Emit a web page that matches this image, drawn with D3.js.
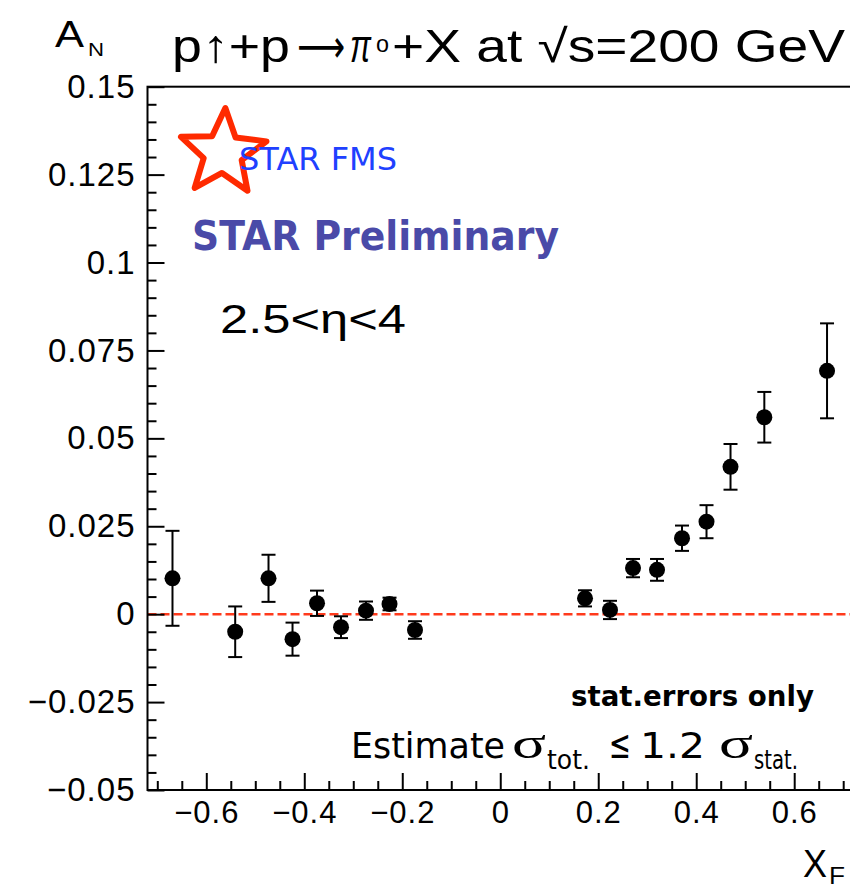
<!DOCTYPE html>
<html>
<head>
<meta charset="utf-8">
<script src="https://cdn.jsdelivr.net/npm/d3@7"></script>
<style>
  html, body { margin: 0; padding: 0; background: #fff; overflow: hidden; }
</style>
</head>
<body>
<div id="chart"></div>
<script>
// values
const xF = [-0.669, -0.541, -0.473, -0.424, -0.374, -0.325, -0.274, -0.226, -0.174,
             0.173, 0.224, 0.271, 0.320, 0.371, 0.421, 0.470, 0.539, 0.667];
const aN = [0.0102, -0.0050, 0.0102, -0.0071, 0.0031, -0.0037, 0.0010, 0.0029, -0.0045,
            0.0045, 0.0012, 0.0131, 0.0126, 0.0216, 0.0263, 0.0419, 0.0560, 0.0692];
const statErr = [0.0135, 0.0072, 0.0067, 0.0047, 0.0036, 0.0031, 0.0026, 0.0018, 0.0025,
                 0.0023, 0.0026, 0.0026, 0.0031, 0.0036, 0.0047, 0.0065, 0.0072, 0.0135];
const xTicks = [-0.6, -0.4, -0.2, 0, 0.2, 0.4, 0.6];
const yTicks = [-0.05, -0.025, 0, 0.025, 0.05, 0.075, 0.1, 0.125, 0.15];
const xDomain = [-0.72, 0.72];
const yDomain = [-0.05, 0.15];

class AsymmetryChart {
    constructor() {
        const attrs = {
            container: "#chart",
            svgWidth: 850,
            svgHeight: 886,
            marginTop: 86.7,
            marginLeft: 147.5,
            plotRight: 853,
            plotBottom: 790,
            defaultFont: "'Liberation Sans', Arial, Helvetica, sans-serif",
            tahoma: "'DejaVu Sans', Verdana, sans-serif",
            markerRadius: 8,
            capHalf: 7
        };
        this.getState = () => attrs;
        this.setState = (d) => Object.assign(attrs, d);
        this.initializeEnterExitUpdatePattern();
    }

    render() {
        this.calculateProperties();
        this.drawSvgAndWrappers();
        this.drawAxes();
        this.drawPoints();
        this.drawLabels();
        return this;
    }

    calculateProperties() {
        const { marginLeft, marginTop, plotRight, plotBottom } = this.getState();
        const x = d3.scaleLinear().domain(xDomain).range([marginLeft, plotRight]);
        const y = d3.scaleLinear().domain(yDomain).range([plotBottom, marginTop]);
        const points = xF.map((d, i) => ({ x: d, y: aN[i], e: statErr[i] }));
        this.setState({ x, y, points });
    }

    drawSvgAndWrappers() {
        const { container, svgWidth, svgHeight, defaultFont } = this.getState();
        const svg = d3.select(container)._add('svg.svg-container')
            .attr("width", svgWidth)
            .attr("height", svgHeight)
            .style("display", "block")
            .attr("font-family", defaultFont);
        const chart = svg._add('g.chart');
        this.setState({ svg, chart });
    }

    drawAxes() {
        const { chart, x, y, marginLeft, marginTop, plotRight, plotBottom } = this.getState();

        // zero line
        chart._add('line.zero-line')
            .attr("x1", x(xDomain[0])).attr("x2", x(xDomain[1]))
            .attr("y1", y(0)).attr("y2", y(0))
            .attr("stroke", "#ff3a1c")
            .attr("stroke-width", 2.5)
            .attr("stroke-dasharray", "9,4");

        // minor ticks
        const xMinor = d3.range(-0.7, 0.7001, 0.05).filter(v => Math.abs(Math.round(v * 5) - v * 5) > 1e-6);
        const yMinor = d3.range(-0.05, 0.1501, 0.005).filter(v => Math.abs(Math.round(v * 40) - v * 40) > 1e-6);

        chart._add('g.x-minor')
            .attr("transform", `translate(0,${plotBottom})`)
            .call(d3.axisBottom(x).tickValues(xMinor).tickSize(-9).tickSizeOuter(0).tickFormat(""));
        chart._add('g.y-minor')
            .attr("transform", `translate(${marginLeft},0)`)
            .call(d3.axisLeft(y).tickValues(yMinor).tickSize(-9).tickSizeOuter(0).tickFormat(""));

        const xAxis = chart._add('g.x-axis')
            .attr("transform", `translate(0,${plotBottom})`)
            .call(d3.axisBottom(x).tickValues(xTicks).tickSize(-17).tickSizeOuter(0).tickPadding(11)
                .tickFormat(d => d === 0 ? "0" : d3.format(".1f")(d)));
        const yAxis = chart._add('g.y-axis')
            .attr("transform", `translate(${marginLeft},0)`)
            .call(d3.axisLeft(y).tickValues(yTicks).tickSize(-17).tickSizeOuter(0).tickPadding(12)
                .tickFormat(d => d === 0 ? "0" : d3.format("")(+d.toFixed(3))));

        chart.selectAll('.x-axis, .y-axis, .x-minor, .y-minor').selectAll('line')
            .attr("stroke", "#000").attr("stroke-width", 2);
        chart.selectAll('.x-minor path, .y-minor path').remove();
        chart.selectAll('.x-axis path, .y-axis path').remove();
        xAxis.selectAll('text').attr("font-size", 31).attr("fill", "#000").attr("font-family", null)
            .attr("letter-spacing", 1);
        yAxis.selectAll('text').attr("font-size", 33).attr("fill", "#000").attr("font-family", null)
            .attr("letter-spacing", 1);

        // frame
        chart._add('rect.frame')
            .attr("x", marginLeft).attr("y", marginTop)
            .attr("width", plotRight - marginLeft).attr("height", plotBottom - marginTop)
            .attr("fill", "none").attr("stroke", "#000").attr("stroke-width", 2);
    }

    drawPoints() {
        const { chart, x, y, points, markerRadius, capHalf } = this.getState();
        const g = chart._add('g.points');

        g._add('line.err-bar', points)
            .attr("x1", d => x(d.x)).attr("x2", d => x(d.x))
            .attr("y1", d => y(d.y - d.e)).attr("y2", d => y(d.y + d.e))
            .attr("stroke", "#000").attr("stroke-width", 2);
        g._add('line.cap-top', points)
            .attr("x1", d => x(d.x) - capHalf).attr("x2", d => x(d.x) + capHalf)
            .attr("y1", d => y(d.y + d.e)).attr("y2", d => y(d.y + d.e))
            .attr("stroke", "#000").attr("stroke-width", 2);
        g._add('line.cap-bottom', points)
            .attr("x1", d => x(d.x) - capHalf).attr("x2", d => x(d.x) + capHalf)
            .attr("y1", d => y(d.y - d.e)).attr("y2", d => y(d.y - d.e))
            .attr("stroke", "#000").attr("stroke-width", 2);
        g._add('circle.marker', points)
            .attr("cx", d => x(d.x)).attr("cy", d => y(d.y))
            .attr("r", markerRadius)
            .attr("fill", "#000");
    }

    drawLabels() {
        const { svg, tahoma } = this.getState();
        const add = (cls, str, px, py, opts = {}) => {
            const t = svg._add('text.' + cls)
                .attr("x", px).attr("y", py)
                .attr("font-size", opts.size || 30)
                .attr("fill", opts.fill || "#000")
                .text(str);
            if (opts.family) t.attr("font-family", opts.family);
            if (opts.weight) t.attr("font-weight", opts.weight);
            if (opts.style) t.attr("font-style", opts.style);
            if (opts.len) t.attr("textLength", opts.len).attr("lengthAdjust", "spacingAndGlyphs");
            return t;
        };

        // axis titles
        add('an-a', "A", 55, 47, { size: 36, len: 29 });
        add('an-n', "N", 88, 56, { size: 18, len: 16 });
        add('xf-x', "X", 803, 877, { size: 38, len: 24 });
        add('xf-f', "F", 829, 884, { size: 24, len: 16 });

        // title
        add('t1', "p\u2191+p", 172, 62, { size: 46, len: 118 });
        add('t2', "\u27f6", 297, 62, { size: 46, len: 48, family: "'DejaVu Sans', sans-serif" });
        add('t3', "\u03c0", 350, 62, { size: 46, len: 21, style: "italic" });
        add('t4', "o", 376, 52, { size: 24, len: 13 });
        add('t5', "+X at \u221as=200 GeV", 392, 62, { size: 46, len: 453 });

        // STAR FMS logo
        const outer = 45, inner = 20;
        const starPts = d3.range(10).map(i => [i * Math.PI / 5, i % 2 === 0 ? outer : inner]);
        svg._add('path.star')
            .attr("transform", "translate(223,153) rotate(3)")
            .attr("d", d3.lineRadial().curve(d3.curveLinearClosed)(starPts))
            .attr("fill", "none")
            .attr("stroke", "#ff2a00")
            .attr("stroke-width", 6)
            .attr("stroke-linejoin", "round");
        add('star-fms', "STAR FMS", 239, 170, { size: 32, len: 158, fill: "#2040ff", family: tahoma });

        add('prelim', "STAR Preliminary", 192, 250, { size: 40, len: 367, fill: "#4a4aa8", family: tahoma, weight: "bold" });
        add('eta', "2.5<\u03b7<4", 220, 333, { size: 40, len: 186 });

        add('stat-only', "stat.errors only", 571, 706, { size: 28, len: 243, family: tahoma, weight: "bold" });

        const serif = "'Liberation Serif', 'Times New Roman', serif";
        add('est', "Estimate", 351, 758, { size: 36, len: 154, family: tahoma });
        add('sig1', "\u03c3", 512, 758, { size: 44, len: 34, family: serif });
        add('sub1', "tot.", 547, 769, { size: 26, len: 43, family: tahoma });
        add('leq', "\u2264", 609, 758, { size: 40, len: 22, family: tahoma });
        add('num', "1.2", 640, 758, { size: 36, len: 65, family: tahoma });
        add('sig2', "\u03c3", 719, 758, { size: 44, len: 34, family: serif });
        add('sub2', "stat.", 754, 769, { size: 26, len: 44, family: tahoma });
    }

    initializeEnterExitUpdatePattern() {
        d3.selection.prototype._add = function (classSelector, data) {
            const container = this;
            const split = classSelector.split(".");
            const elementTag = split[0];
            const className = split[1] || 'not-good';
            let bindData = data;
            if (bindData && !Array.isArray(bindData)) bindData = [bindData];
            if (!bindData) bindData = [className];
            let selection = container.selectAll(elementTag + '.' + className).data(bindData);
            selection.exit().remove();
            selection = selection.enter().append(elementTag).merge(selection);
            selection.attr("class", className);
            return selection;
        };
    }
}

new AsymmetryChart().render();
</script>
</body>
</html>
